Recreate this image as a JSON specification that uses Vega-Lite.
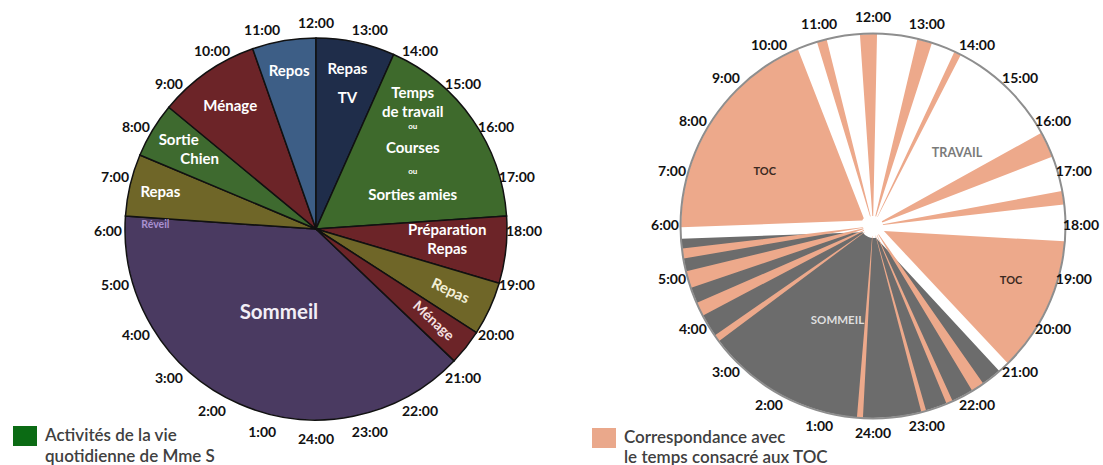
{
  "$schema": "https://vega.github.io/schema/vega-lite/v6.json",
  "padding": 0,
  "spacing": 11,
  "bounds": "flush",
  "background": "white",
  "config": {"view": {"stroke": null}, "font": "Lato"},
  "resolve": {"scale": {"color": "independent", "fill": "independent", "theta": "independent"}, "legend": {"fill": "independent", "color": "independent"}},
  "datasets": {
    "activites": [
      {"activite": "Sommeil", "debut": 20.91, "fin": 6.26, "etiquette": "Sommeil", "note": "Réveil"},
      {"activite": "Repas", "debut": 6.26, "fin": 7.52, "etiquette": "Repas"},
      {"activite": "Sortie Chien", "debut": 7.52, "fin": 8.64, "etiquette": "Sortie\nChien"},
      {"activite": "Ménage", "debut": 8.64, "fin": 10.71, "etiquette": "Ménage"},
      {"activite": "Repos", "debut": 10.71, "fin": 12.0, "etiquette": "Repos"},
      {"activite": "Repas TV", "debut": 12.0, "fin": 13.6, "etiquette": "Repas\nTV"},
      {"activite": "Temps de travail ou Courses ou Sorties amies", "debut": 13.6, "fin": 17.74, "etiquette": "Temps\nde travail\nou\nCourses\nou\nSorties amies"},
      {"activite": "Préparation Repas", "debut": 17.74, "fin": 19.1, "etiquette": "Préparation\nRepas"},
      {"activite": "Repas", "debut": 19.1, "fin": 20.19, "etiquette": "Repas"},
      {"activite": "Ménage", "debut": 20.19, "fin": 20.91, "etiquette": "Ménage"}
    ],
    "periodes": [
      {"type": "TOC", "debut": 5.86, "fin": 10.58, "etiquette": "TOC"},
      {"type": "Travail", "debut": 13.81, "fin": 16.07, "etiquette": "TRAVAIL"},
      {"type": "TOC", "debut": 18.19, "fin": 21.15, "etiquette": "TOC"},
      {"type": "Sommeil", "debut": 21.15, "fin": 5.86, "etiquette": "SOMMEIL"}
    ],
    "bandes": [
      {"type": "TOC", "debut": 10.87, "fin": 11.07},
      {"type": "TOC", "debut": 11.74, "fin": 12.08},
      {"type": "TOC", "debut": 12.89, "fin": 13.19},
      {"type": "TOC", "debut": 13.67, "fin": 13.81},
      {"type": "TOC", "debut": 16.07, "fin": 16.59},
      {"type": "TOC", "debut": 17.30, "fin": 17.57},
      {"type": "TOC", "debut": 5.35, "fin": 5.55},
      {"type": "TOC", "debut": 4.75, "fin": 5.09},
      {"type": "TOC", "debut": 4.15, "fin": 4.43},
      {"type": "TOC", "debut": 3.55, "fin": 3.69},
      {"type": "TOC", "debut": 0.20, "fin": 0.32},
      {"type": "TOC", "debut": 22.93, "fin": 23.03},
      {"type": "TOC", "debut": 22.37, "fin": 22.50},
      {"type": "TOC", "debut": 21.67, "fin": 21.93}
    ],
    "heures": [
      {"heure": 1, "texte": "1:00"}, {"heure": 2, "texte": "2:00"}, {"heure": 3, "texte": "3:00"},
      {"heure": 4, "texte": "4:00"}, {"heure": 5, "texte": "5:00"}, {"heure": 6, "texte": "6:00"},
      {"heure": 7, "texte": "7:00"}, {"heure": 8, "texte": "8:00"}, {"heure": 9, "texte": "9:00"},
      {"heure": 10, "texte": "10:00"}, {"heure": 11, "texte": "11:00"}, {"heure": 12, "texte": "12:00"},
      {"heure": 13, "texte": "13:00"}, {"heure": 14, "texte": "14:00"}, {"heure": 15, "texte": "15:00"},
      {"heure": 16, "texte": "16:00"}, {"heure": 17, "texte": "17:00"}, {"heure": 18, "texte": "18:00"},
      {"heure": 19, "texte": "19:00"}, {"heure": 20, "texte": "20:00"}, {"heure": 21, "texte": "21:00"},
      {"heure": 22, "texte": "22:00"}, {"heure": 23, "texte": "23:00"}, {"heure": 24, "texte": "24:00"}
    ]
  },
  "hconcat": [
    {
      "width": 632,
      "height": 458,
      "layer": [
        {
          "data": {"values": [{"legende": "Activités de la vie\nquotidienne de Mme S"}]},
          "mark": {"type": "square", "opacity": 0},
          "encoding": {
            "fill": {"field": "legende", "type": "nominal", "scale": {"range": ["#0b6b14"]},
              "legend": {"title": null, "orient": "none", "legendX": 15, "legendY": 426, "symbolType": "M-1.2,-1L1.2,-1L1.2,1L-1.2,1Z", "symbolSize": 400, "symbolOpacity": 1, "symbolStrokeWidth": 0, "labelExpr": "split(datum.label, '\\n')", "labelFont": "Lato", "labelFontSize": 17, "labelFontWeight": 600, "labelColor": "#404040", "labelLimit": 400, "labelOffset": 10, "labelBaseline": "middle",
                "encode": {"labels": {"update": {"lineHeight": {"value": 21}}}}}}
          }
        },
        {
          "data": {"name": "activites"},
          "transform": [{"calculate": "datum.fin < datum.debut ? datum.fin + 24 : datum.fin", "as": "fin2"}],
          "mark": {"type": "arc", "radius": 191, "stroke": "#111111", "strokeWidth": 1.5},
          "encoding": {
            "theta": {"field": "debut", "type": "quantitative", "stack": null, "scale": {"domain": [0, 24], "range": [3.14159265, 9.42477796], "nice": false, "zero": false}},
            "theta2": {"field": "fin2"},
            "color": {"field": "activite", "type": "nominal", "legend": null,
              "scale": {"domain": ["Sommeil", "Repas", "Sortie Chien", "Ménage", "Repos", "Repas TV", "Temps de travail ou Courses ou Sorties amies", "Préparation Repas"],
                        "range": ["#4a3a61", "#6f6628", "#3e6a2f", "#6c2428", "#3d5e86", "#1f2d4a", "#3e6a2c", "#6c2428"]}}
          }
        },
        {
          "data": {"name": "activites"},
          "transform": [
            {"calculate": "datum.fin < datum.debut ? datum.fin + 24 : datum.fin", "as": "fin2"},
            {"calculate": "(datum.debut + datum.fin2) / 2", "as": "milieu"},
            {"filter": "datum.activite === 'Repos' || (datum.activite === 'Repas' && datum.debut < 12)"}
          ],
          "mark": {"type": "text", "font": "Lato", "fontWeight": "bold", "fontSize": 15, "color": "#ffffff"},
          "encoding": {
            "theta": {"field": "milieu", "type": "quantitative", "stack": null, "scale": {"domain": [0, 24], "range": [3.14159265, 9.42477796], "nice": false, "zero": false}},
            "radius": {"value": 160},
            "text": {"field": "etiquette"}
          }
        },
        {
          "data": {"name": "activites"},
          "transform": [
            {"calculate": "datum.fin < datum.debut ? datum.fin + 24 : datum.fin", "as": "fin2"},
            {"calculate": "(datum.debut + datum.fin2) / 2", "as": "milieu"},
            {"filter": "datum.activite === 'Ménage' && datum.debut < 12"}
          ],
          "mark": {"type": "text", "font": "Lato", "fontWeight": "bold", "fontSize": 15, "color": "#ffffff"},
          "encoding": {
            "theta": {"field": "milieu", "type": "quantitative", "stack": null, "scale": {"domain": [0, 24], "range": [3.14159265, 9.42477796], "nice": false, "zero": false}},
            "radius": {"value": 150},
            "text": {"field": "etiquette"}
          }
        },
        {
          "data": {"name": "activites"},
          "transform": [
            {"calculate": "datum.fin < datum.debut ? datum.fin + 24 : datum.fin", "as": "fin2"},
            {"calculate": "(datum.debut + datum.fin2) / 2", "as": "milieu"},
            {"filter": "datum.activite === 'Sortie Chien'"},
            {"calculate": "split(datum.etiquette, '\\n')", "as": "lignes"},
            {"calculate": "datum.lignes[0]", "as": "l0"},
            {"calculate": "datum.lignes[1]", "as": "l1"}
          ],
          "layer": [
            {
              "mark": {"type": "text", "font": "Lato", "fontWeight": "bold", "fontSize": 15, "color": "#ffffff", "dx": -9, "dy": -11},
              "encoding": {
                "theta": {"field": "milieu", "type": "quantitative", "stack": null, "scale": {"domain": [0, 24], "range": [3.14159265, 9.42477796], "nice": false, "zero": false}},
                "radius": {"value": 150},
                "text": {"field": "l0"}
              }
            },
            {
              "mark": {"type": "text", "font": "Lato", "fontWeight": "bold", "fontSize": 15, "color": "#ffffff", "dx": 12, "dy": 8},
              "encoding": {
                "theta": {"field": "milieu", "type": "quantitative", "stack": null, "scale": {"domain": [0, 24], "range": [3.14159265, 9.42477796], "nice": false, "zero": false}},
                "radius": {"value": 150},
                "text": {"field": "l1"}
              }
            }
          ]
        },
        {
          "data": {"name": "activites"},
          "transform": [
            {"calculate": "datum.fin < datum.debut ? datum.fin + 24 : datum.fin", "as": "fin2"},
            {"calculate": "(datum.debut + datum.fin2) / 2", "as": "milieu"},
            {"filter": "datum.activite === 'Repas TV'"}
          ],
          "mark": {"type": "text", "font": "Lato", "fontWeight": "bold", "fontSize": 15, "color": "#ffffff", "lineBreak": "\n", "lineHeight": 29, "dy": -12},
          "encoding": {
            "theta": {"field": "milieu", "type": "quantitative", "stack": null, "scale": {"domain": [0, 24], "range": [3.14159265, 9.42477796], "nice": false, "zero": false}},
            "radius": {"value": 151},
            "text": {"field": "etiquette"}
          }
        },
        {
          "data": {"name": "activites"},
          "transform": [
            {"calculate": "datum.fin < datum.debut ? datum.fin + 24 : datum.fin", "as": "fin2"},
            {"calculate": "(datum.debut + datum.fin2) / 2", "as": "milieu"},
            {"filter": "indexof(datum.activite, 'Temps') === 0"},
            {"calculate": "split(datum.etiquette, '\\n')", "as": "lignes"},
            {"calculate": "datum.lignes[0] + '\\n' + datum.lignes[1]", "as": "haut"},
            {"calculate": "datum.lignes[2]", "as": "ou1"},
            {"calculate": "datum.lignes[3]", "as": "milieu_texte"},
            {"calculate": "datum.lignes[4]", "as": "ou2"},
            {"calculate": "datum.lignes[5]", "as": "bas"}
          ],
          "layer": [
            {
              "mark": {"type": "text", "font": "Lato", "fontWeight": "bold", "fontSize": 15, "color": "#ffffff", "lineBreak": "\n", "lineHeight": 19, "dx": -9, "dy": -62},
              "encoding": {
                "theta": {"field": "milieu", "type": "quantitative", "stack": null, "scale": {"domain": [0, 24], "range": [3.14159265, 9.42477796], "nice": false, "zero": false}},
                "radius": {"value": 129},
                "text": {"field": "haut"}
              }
            },
            {
              "mark": {"type": "text", "font": "Lato", "fontWeight": "bold", "fontSize": 8, "color": "#ffffff", "dx": -9, "dy": -28},
              "encoding": {
                "theta": {"field": "milieu", "type": "quantitative", "stack": null, "scale": {"domain": [0, 24], "range": [3.14159265, 9.42477796], "nice": false, "zero": false}},
                "radius": {"value": 129},
                "text": {"field": "ou1"}
              }
            },
            {
              "mark": {"type": "text", "font": "Lato", "fontWeight": "bold", "fontSize": 15, "color": "#ffffff", "dx": -9, "dy": -7},
              "encoding": {
                "theta": {"field": "milieu", "type": "quantitative", "stack": null, "scale": {"domain": [0, 24], "range": [3.14159265, 9.42477796], "nice": false, "zero": false}},
                "radius": {"value": 129},
                "text": {"field": "milieu_texte"}
              }
            },
            {
              "mark": {"type": "text", "font": "Lato", "fontWeight": "bold", "fontSize": 8, "color": "#ffffff", "dx": -9, "dy": 17},
              "encoding": {
                "theta": {"field": "milieu", "type": "quantitative", "stack": null, "scale": {"domain": [0, 24], "range": [3.14159265, 9.42477796], "nice": false, "zero": false}},
                "radius": {"value": 129},
                "text": {"field": "ou2"}
              }
            },
            {
              "mark": {"type": "text", "font": "Lato", "fontWeight": "bold", "fontSize": 15, "color": "#ffffff", "dx": -9, "dy": 40},
              "encoding": {
                "theta": {"field": "milieu", "type": "quantitative", "stack": null, "scale": {"domain": [0, 24], "range": [3.14159265, 9.42477796], "nice": false, "zero": false}},
                "radius": {"value": 129},
                "text": {"field": "bas"}
              }
            }
          ]
        },
        {
          "data": {"name": "activites"},
          "transform": [
            {"calculate": "datum.fin < datum.debut ? datum.fin + 24 : datum.fin", "as": "fin2"},
            {"calculate": "(datum.debut + datum.fin2) / 2", "as": "milieu"},
            {"filter": "datum.activite === 'Préparation Repas'"}
          ],
          "mark": {"type": "text", "font": "Lato", "fontWeight": "bold", "fontSize": 15, "color": "#ffffff", "lineBreak": "\n", "lineHeight": 19, "dy": -13},
          "encoding": {
            "theta": {"field": "milieu", "type": "quantitative", "stack": null, "scale": {"domain": [0, 24], "range": [3.14159265, 9.42477796], "nice": false, "zero": false}},
            "radius": {"value": 132},
            "text": {"field": "etiquette"}
          }
        },
        {
          "data": {"name": "activites"},
          "transform": [
            {"calculate": "datum.fin < datum.debut ? datum.fin + 24 : datum.fin", "as": "fin2"},
            {"calculate": "(datum.debut + datum.fin2) / 2", "as": "milieu"},
            {"filter": "datum.activite === 'Repas' && datum.debut > 12"}
          ],
          "mark": {"type": "text", "font": "Lato", "fontWeight": "bold", "fontSize": 15, "color": "#f3efd6", "angle": 25},
          "encoding": {
            "theta": {"field": "milieu", "type": "quantitative", "stack": null, "scale": {"domain": [0, 24], "range": [3.14159265, 9.42477796], "nice": false, "zero": false}},
            "radius": {"value": 148},
            "text": {"field": "etiquette"}
          }
        },
        {
          "data": {"name": "activites"},
          "transform": [
            {"calculate": "datum.fin < datum.debut ? datum.fin + 24 : datum.fin", "as": "fin2"},
            {"calculate": "(datum.debut + datum.fin2) / 2", "as": "milieu"},
            {"filter": "datum.activite === 'Ménage' && datum.debut > 12"}
          ],
          "mark": {"type": "text", "font": "Lato", "fontWeight": "bold", "fontSize": 14, "color": "#f5e1e1", "angle": 43},
          "encoding": {
            "theta": {"field": "milieu", "type": "quantitative", "stack": null, "scale": {"domain": [0, 24], "range": [3.14159265, 9.42477796], "nice": false, "zero": false}},
            "radius": {"value": 149},
            "text": {"field": "etiquette"}
          }
        },
        {
          "data": {"name": "activites"},
          "transform": [
            {"calculate": "datum.fin < datum.debut ? datum.fin + 24 : datum.fin", "as": "fin2"},
            {"calculate": "(datum.debut + datum.fin2) / 2", "as": "milieu"},
            {"filter": "datum.activite === 'Sommeil'"}
          ],
          "layer": [
            {
              "mark": {"type": "text", "font": "Lato", "fontWeight": "bold", "fontSize": 20.5, "color": "#f2eef6"},
              "encoding": {
                "theta": {"field": "milieu", "type": "quantitative", "stack": null, "scale": {"domain": [0, 24], "range": [3.14159265, 9.42477796], "nice": false, "zero": false}},
                "radius": {"value": 92},
                "text": {"field": "etiquette"}
              }
            },
            {
              "mark": {"type": "text", "font": "Lato", "fontWeight": "bold", "fontSize": 10.5, "color": "#a990d0", "dy": 7},
              "encoding": {
                "theta": {"field": "fin2", "type": "quantitative", "stack": null, "scale": {"domain": [0, 24], "range": [3.14159265, 9.42477796], "nice": false, "zero": false}},
                "radius": {"value": 161},
                "text": {"field": "note"}
              }
            }
          ]
        },
        {
          "data": {"name": "heures"},
          "mark": {"type": "text", "font": "Lato", "fontWeight": "bold", "fontSize": 14, "color": "#111111", "dy": 3},
          "encoding": {
            "theta": {"field": "heure", "type": "quantitative", "stack": null, "scale": {"domain": [0, 24], "range": [3.14159265, 9.42477796], "nice": false, "zero": false}},
            "radius": {"value": 208},
            "text": {"field": "texte"}
          }
        }
      ]
    },
    {
      "width": 460,
      "height": 452,
      "layer": [
        {
          "data": {"values": [{"legende": "Correspondance avec\nle temps consacré aux TOC"}]},
          "mark": {"type": "square", "opacity": 0},
          "encoding": {
            "fill": {"field": "legende", "type": "nominal", "scale": {"range": ["#eaa88b"]},
              "legend": {"title": null, "orient": "none", "legendX": -49, "legendY": 428, "symbolType": "M-1.2,-1L1.2,-1L1.2,1L-1.2,1Z", "symbolSize": 400, "symbolOpacity": 1, "symbolStrokeWidth": 0, "labelExpr": "split(datum.label, '\\n')", "labelFont": "Lato", "labelFontSize": 17, "labelFontWeight": 600, "labelColor": "#404040", "labelLimit": 400, "labelOffset": 10, "labelBaseline": "middle",
                "encode": {"labels": {"update": {"lineHeight": {"value": 20}}}}}}
          }
        },
        {
          "data": {"name": "periodes"},
          "transform": [{"calculate": "datum.fin < datum.debut ? datum.fin + 24 : datum.fin", "as": "fin2"}],
          "mark": {"type": "arc", "radius": 192, "radius2": 12, "padAngle": 0.06},
          "encoding": {
            "theta": {"field": "debut", "type": "quantitative", "stack": null, "scale": {"domain": [0, 24], "range": [3.14159265, 9.42477796], "nice": false, "zero": false}},
            "theta2": {"field": "fin2"},
            "color": {"field": "type", "type": "nominal", "legend": null, "scale": {"domain": ["TOC", "Sommeil", "Travail"], "range": ["#eda98b", "#6c6c6c", "#ffffff"]}}
          }
        },
        {
          "data": {"name": "bandes"},
          "mark": {"type": "arc", "radius": 192, "radius2": 10},
          "encoding": {
            "theta": {"field": "debut", "type": "quantitative", "stack": null, "scale": {"domain": [0, 24], "range": [3.14159265, 9.42477796], "nice": false, "zero": false}},
            "theta2": {"field": "fin"},
            "color": {"field": "type", "type": "nominal", "legend": null, "scale": {"domain": ["TOC", "Sommeil", "Travail"], "range": ["#eda98b", "#6c6c6c", "#ffffff"]}}
          }
        },
        {
          "data": {"values": [{"contour": "cadran"}]},
          "mark": {"type": "arc", "radius": 193.5, "radius2": 191.5, "color": "#8e8e8e"},
          "encoding": {
            "theta": {"datum": 0, "type": "quantitative", "stack": null, "scale": {"domain": [0, 24], "range": [3.14159265, 9.42477796], "nice": false, "zero": false}},
            "theta2": {"datum": 24}
          }
        },
        {
          "data": {"name": "periodes"},
          "transform": [
            {"calculate": "datum.fin < datum.debut ? datum.fin + 24 : datum.fin", "as": "fin2"},
            {"calculate": "(datum.debut + datum.fin2) / 2", "as": "milieu"}
          ],
          "layer": [
            {
              "transform": [{"filter": "datum.type === 'TOC' && datum.debut < 12"}],
              "mark": {"type": "text", "font": "Lato", "fontWeight": "bold", "fontSize": 11, "color": "#3b2a22", "dx": -8, "dy": 12},
              "encoding": {
                "theta": {"field": "milieu", "type": "quantitative", "stack": null, "scale": {"domain": [0, 24], "range": [3.14159265, 9.42477796], "nice": false, "zero": false}},
                "radius": {"value": 120},
                "text": {"field": "etiquette"}
              }
            },
            {
              "transform": [{"filter": "datum.type === 'TOC' && datum.debut > 12"}],
              "mark": {"type": "text", "font": "Lato", "fontWeight": "bold", "fontSize": 11, "color": "#3b2a22", "dx": 4, "dy": -8},
              "encoding": {
                "theta": {"field": "milieu", "type": "quantitative", "stack": null, "scale": {"domain": [0, 24], "range": [3.14159265, 9.42477796], "nice": false, "zero": false}},
                "radius": {"value": 148},
                "text": {"field": "etiquette"}
              }
            },
            {
              "transform": [{"filter": "datum.type === 'Travail'"}],
              "mark": {"type": "text", "font": "Lato", "fontWeight": "bold", "fontSize": 12.5, "color": "#7a7a7a", "dx": 4, "dy": 10},
              "encoding": {
                "theta": {"field": "milieu", "type": "quantitative", "stack": null, "scale": {"domain": [0, 24], "range": [3.14159265, 9.42477796], "nice": false, "zero": false}},
                "radius": {"value": 115},
                "text": {"field": "etiquette"}
              }
            },
            {
              "transform": [{"filter": "datum.type === 'Sommeil'"}],
              "mark": {"type": "text", "font": "Lato", "fontWeight": "bold", "fontSize": 11.5, "color": "#dedede", "dx": 4},
              "encoding": {
                "theta": {"field": "milieu", "type": "quantitative", "stack": null, "scale": {"domain": [0, 24], "range": [3.14159265, 9.42477796], "nice": false, "zero": false}},
                "radius": {"value": 103},
                "text": {"field": "etiquette"}
              }
            }
          ]
        },
        {
          "data": {"name": "heures"},
          "mark": {"type": "text", "font": "Lato", "fontWeight": "bold", "fontSize": 14, "color": "#111111"},
          "encoding": {
            "theta": {"field": "heure", "type": "quantitative", "stack": null, "scale": {"domain": [0, 24], "range": [3.14159265, 9.42477796], "nice": false, "zero": false}},
            "radius": {"value": 208},
            "text": {"field": "texte"}
          }
        }
      ]
    }
  ]
}
